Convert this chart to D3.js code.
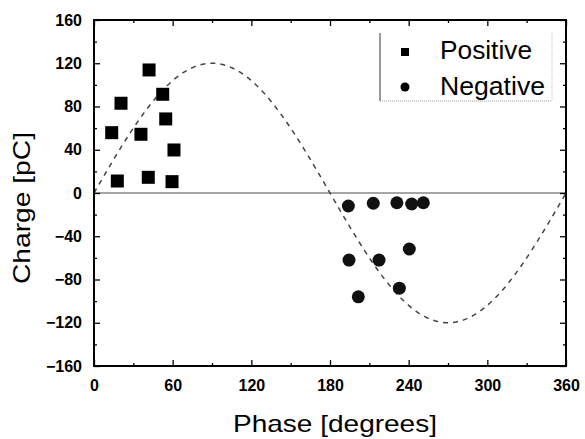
<!DOCTYPE html>
<html><head><meta charset="utf-8">
<script src="https://cdn.jsdelivr.net/npm/d3@7"></script>
<style>body{margin:0;background:#fff}svg{display:block}</style>
</head><body>
<svg id="c" width="585" height="439"></svg>
<script>
const posPhase  = [13.5, 17.8, 20.6, 35.8, 42.0, 41.4, 52.4, 54.7, 61.0, 59.5];
const posCharge = [55.8, 11.1, 83.0, 54.3, 113.8, 14.5, 91.3, 68.5, 39.8, 10.5];
const negPhase  = [194.0, 213.0, 231.0, 242.3, 251.2, 240.5, 194.5, 217.4, 201.6, 232.9];
const negCharge = [-12.0, -9.5, -9.0, -10.2, -9.0, -51.8, -62.0, -62.0, -96.0, -88.0];
const xTicks = [0, 60, 120, 180, 240, 300, 360];
const yTicks = [-160, -120, -80, -40, 0, 40, 80, 120, 160];
const sineAmp = 120;
const sinePhases = d3.range(0, 361, 2);

const svg = d3.select('#c');
const L = 94, R = 566, T = 20, B = 366;
const x = d3.scaleLinear().domain([0, 360]).range([L, R]);
const y = d3.scaleLinear().domain([-160, 160]).range([B, T]);

// zero line
svg.append('line').attr('x1', x(0)).attr('x2', x(360)).attr('y1', y(0)).attr('y2', y(0))
  .attr('stroke', '#888').attr('stroke-width', 1.6);

// sine
svg.append('path').datum(sinePhases)
  .attr('d', d3.line().x(d => x(d)).y(d => y(sineAmp * Math.sin(d * Math.PI / 180))))
  .attr('fill', 'none').attr('stroke', '#444').attr('stroke-width', 1.5)
  .attr('stroke-dasharray', '5,5');

// axes
const fontTick = 'bold 16px "Liberation Sans", Arial, sans-serif';
const minorX = d3.range(30, 360, 60), minorY = d3.range(-140, 160, 40);
function styleAxis(g) {
  g.select('.domain').remove();
  g.selectAll('line').attr('stroke', '#000').attr('stroke-width', 1.3);
  g.selectAll('text').style('font', fontTick).attr('fill', '#000');
}
svg.append('g').attr('transform', `translate(0,${B})`)
  .call(d3.axisBottom(x).tickValues(xTicks).tickSize(-6).tickPadding(14).tickFormat(d3.format('d')))
  .call(styleAxis);
svg.append('g').attr('transform', `translate(0,${B})`)
  .call(d3.axisBottom(x).tickValues(minorX).tickSize(-3).tickFormat(''))
  .call(styleAxis);
svg.append('g').attr('transform', `translate(0,${T})`)
  .call(d3.axisTop(x).tickValues(xTicks).tickSize(-6).tickFormat(''))
  .call(styleAxis);
svg.append('g').attr('transform', `translate(0,${T})`)
  .call(d3.axisTop(x).tickValues(minorX).tickSize(-3).tickFormat(''))
  .call(styleAxis);
svg.append('g').attr('transform', `translate(${L},0)`)
  .call(d3.axisLeft(y).tickValues(yTicks).tickSize(-6).tickPadding(12).tickFormat(d3.format('d')))
  .call(styleAxis);
svg.append('g').attr('transform', `translate(${L},0)`)
  .call(d3.axisLeft(y).tickValues(minorY).tickSize(-3).tickFormat(''))
  .call(styleAxis);
svg.append('g').attr('transform', `translate(${R},0)`)
  .call(d3.axisRight(y).tickValues(yTicks).tickSize(-6).tickFormat(''))
  .call(styleAxis);
svg.append('g').attr('transform', `translate(${R},0)`)
  .call(d3.axisRight(y).tickValues(minorY).tickSize(-3).tickFormat(''))
  .call(styleAxis);

// frame
svg.append('rect').attr('x', L).attr('y', T).attr('width', R - L).attr('height', B - T)
  .attr('fill', 'none').attr('stroke', '#000').attr('stroke-width', 2);

// points
const sq = 13;
svg.append('g').selectAll('rect').data(posPhase.map((p, i) => [p, posCharge[i]])).join('rect')
  .attr('x', d => x(d[0]) - sq / 2).attr('y', d => y(d[1]) - sq / 2)
  .attr('width', sq).attr('height', sq).attr('fill', '#000');
svg.append('g').selectAll('circle').data(negPhase.map((p, i) => [p, negCharge[i]])).join('circle')
  .attr('cx', d => x(d[0])).attr('cy', d => y(d[1])).attr('r', 6.5).attr('fill', '#111');

// legend
const lg = svg.append('g');
lg.append('line').attr('x1', 380).attr('x2', 380).attr('y1', 33).attr('y2', 101).attr('stroke', '#333').attr('stroke-width', 1);
lg.append('line').attr('x1', 380).attr('x2', 552).attr('y1', 101).attr('y2', 101).attr('stroke', '#999').attr('stroke-width', 1).attr('stroke-dasharray', '1,1');
lg.append('line').attr('x1', 552).attr('x2', 552).attr('y1', 33).attr('y2', 101).attr('stroke', '#bbb').attr('stroke-width', 1).attr('stroke-dasharray', '1,1');
lg.append('rect').attr('x', 401).attr('y', 48).attr('width', 8).attr('height', 8).attr('fill', '#000');
lg.append('circle').attr('cx', 405).attr('cy', 87).attr('r', 4.5).attr('fill', '#000');
const lfont = '25px "Liberation Sans", Arial, sans-serif';
lg.append('text').attr('x', 440).attr('y', 59).style('font', lfont).attr('textLength', 92).attr('lengthAdjust', 'spacingAndGlyphs').text('Positive');
lg.append('text').attr('x', 440).attr('y', 95).style('font', lfont).attr('textLength', 105).attr('lengthAdjust', 'spacingAndGlyphs').text('Negative');

// axis titles
const tfont = '24px "Liberation Sans", Arial, sans-serif';
svg.append('text').attr('x', 335).attr('y', 432).attr('text-anchor', 'middle').style('font', tfont)
  .attr('textLength', 204).attr('lengthAdjust', 'spacingAndGlyphs').text('Phase [degrees]');
svg.append('text').attr('transform', 'translate(30,208) rotate(-90)').attr('text-anchor', 'middle').style('font', tfont)
  .attr('textLength', 152).attr('lengthAdjust', 'spacingAndGlyphs').text('Charge [pC]');
</script>
</body></html>
